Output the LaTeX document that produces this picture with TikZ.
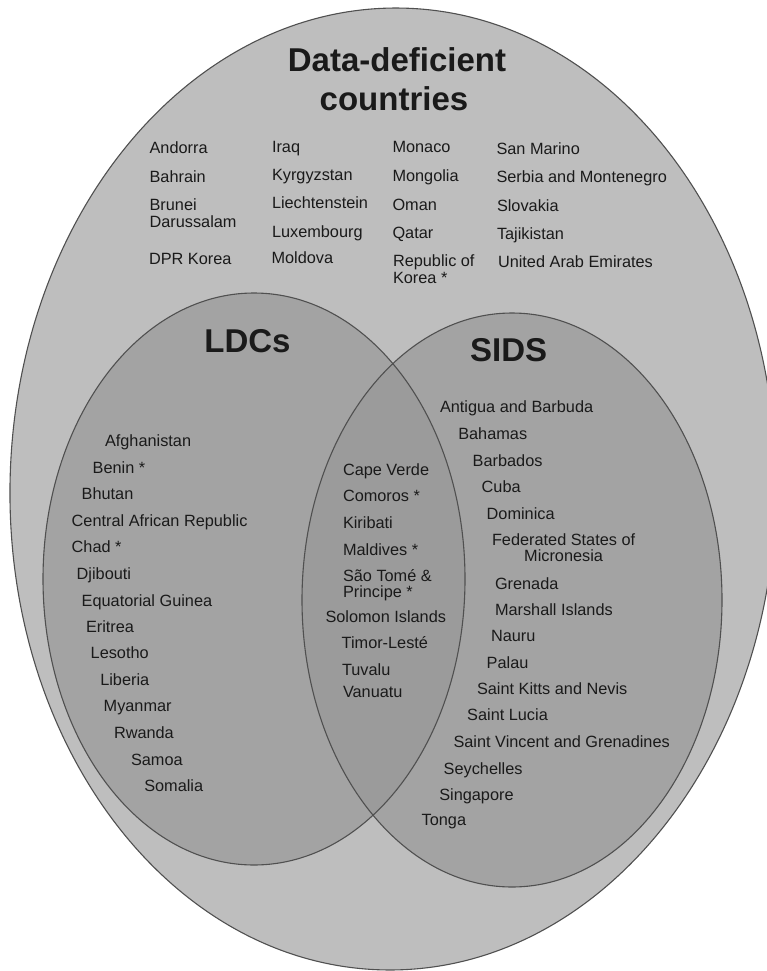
\documentclass[tikz,border=0pt]{standalone}
\usepackage{fontspec}
\setmainfont{Liberation Sans}
\definecolor{bigfill}{HTML}{BEBEBE}
\definecolor{circfill}{HTML}{A3A3A3}
\definecolor{lensfill}{HTML}{9B9B9B}
\definecolor{edgecol}{HTML}{505050}
\definecolor{txtcol}{HTML}{1A1A1A}
\begin{document}
\begin{tikzpicture}[x=1pt,y=-1pt,
  lbl/.style={anchor=base west, inner sep=0pt, outer sep=0pt, text=txtcol, font=\fontsize{16.3}{18}\selectfont},
  lblc/.style={lbl, anchor=base},
  ttl/.style={anchor=base, inner sep=0pt, outer sep=0pt, text=txtcol, font=\fontsize{33}{36}\selectfont\bfseries},
  outline/.style={draw=edgecol, line width=1.1pt}]
\useasboundingbox (0,0) rectangle (767,971);
\begin{scope}
  \clip (0,0) rectangle (767,971);
  % outer ellipse
  \fill[bigfill, rotate around={-1:(393,489)}] (393,489) ellipse [x radius=383pt, y radius=481pt];
  % LDCs and SIDS
  \fill[circfill] (254,579) ellipse [x radius=211pt, y radius=286pt];
  \fill[circfill] (512,600) ellipse [x radius=210pt, y radius=287pt];
  \begin{scope}
    \clip (254,579) ellipse [x radius=211pt, y radius=286pt];
    \fill[lensfill] (512,600) ellipse [x radius=210pt, y radius=287pt];
  \end{scope}
  \draw[outline, rotate around={-1:(393,489)}] (393,489) ellipse [x radius=383pt, y radius=481pt];
  \draw[outline] (254,579) ellipse [x radius=211pt, y radius=286pt];
  \draw[outline] (512,600) ellipse [x radius=210pt, y radius=287pt];
\end{scope}

% titles
\node[ttl] (t1) at (397,72) {Data-deficient};
\node[ttl] (t2) at (394,111) {countries};
\node[ttl] (tldc) at (247.5,352.7) {LDCs};
\node[ttl] (tsids) at (508.7,361.7) {SIDS};

% data-deficient list
\node[lbl] (d1) at (149.6,153.5) {Andorra};
\node[lbl] (d2) at (149.6,182) {Bahrain};
\node[lbl] (d3) at (149.6,210) {Brunei};
\node[lbl] (d3b) at (149.6,227) {Darussalam};
\node[lbl] (d4) at (149,264) {DPR Korea};
\node[lbl] (d5) at (272,152) {Iraq};
\node[lbl] (d6) at (272,180.5) {Kyrgyzstan};
\node[lbl] (d7) at (272,208.5) {Liechtenstein};
\node[lbl] (d8) at (272,237) {Luxembourg};
\node[lbl] (d9) at (271.5,263) {Moldova};
\node[lbl] (d10) at (392.5,153) {Monaco};
\node[lbl] (d11) at (392.5,181.5) {Mongolia};
\node[lbl] (d12) at (392.5,210) {Oman};
\node[lbl] (d13) at (392.5,238.5) {Qatar};
\node[lbl] (d14) at (393,266) {Republic of};
\node[lbl] (d14b) at (393,283) {Korea *};
\node[lbl] (d15) at (496.5,154) {San Marino};
\node[lbl] (d16) at (496.5,182.5) {Serbia and Montenegro};
\node[lbl] (d17) at (497,211) {Slovakia};
\node[lbl] (d18) at (497,239.5) {Tajikistan};
\node[lbl] (d19) at (498,267) {United Arab Emirates};

% LDCs list
\node[lbl] (l1) at (105,446.7) {Afghanistan};
\node[lbl] (l2) at (92.7,473.3) {Benin *};
\node[lbl] (l3) at (81.7,499.5) {Bhutan};
\node[lbl] (l4) at (71.7,526) {Central African Republic};
\node[lbl] (l5) at (71.7,552.7) {Chad *};
\node[lbl] (l6) at (76.7,579.3) {Djibouti};
\node[lbl] (l7) at (81.7,606) {Equatorial Guinea};
\node[lbl] (l8) at (86,632) {Eritrea};
\node[lbl] (l9) at (90.7,658.5) {Lesotho};
\node[lbl] (l10) at (100.3,685) {Liberia};
\node[lbl] (l11) at (103.7,711.7) {Myanmar};
\node[lbl] (l12) at (114,738.3) {Rwanda};
\node[lbl] (l13) at (131,765) {Samoa};
\node[lbl] (l14) at (144.3,791) {Somalia};

% overlap list
\node[lbl] (o1) at (343,475) {Cape Verde};
\node[lbl] (o2) at (343,501.7) {Comoros *};
\node[lbl] (o3) at (343,528) {Kiribati};
\node[lbl] (o4) at (343,555) {Maldives *};
\node[lbl] (o5) at (343,581.5) {São Tomé \&};
\node[lbl] (o5b) at (343,597) {Principe *};
\node[lbl] (o6) at (325.5,622) {Solomon Islands};
\node[lbl] (o7) at (341.7,648) {Timor-Lesté};
\node[lbl] (o8) at (342,675) {Tuvalu};
\node[lbl] (o9) at (343,697.5) {Vanuatu};

% SIDS list
\node[lbl] (s1) at (440,412.7) {Antigua and Barbuda};
\node[lbl] (s2) at (458.3,439) {Bahamas};
\node[lbl] (s3) at (472.7,466) {Barbados};
\node[lbl] (s4) at (481.7,492.3) {Cuba};
\node[lbl] (s5) at (486.7,519.3) {Dominica};
\node[lblc] (s6) at (563.6,545) {Federated States of};
\node[lblc] (s6b) at (563.6,561.7) {Micronesia};
\node[lbl] (s7) at (495,589) {Grenada};
\node[lbl] (s8) at (495,615) {Marshall Islands};
\node[lbl] (s9) at (491,641.7) {Nauru};
\node[lbl] (s10) at (486.7,668.3) {Palau};
\node[lbl] (s11) at (477,694.3) {Saint Kitts and Nevis};
\node[lbl] (s12) at (467.2,720.7) {Saint Lucia};
\node[lbl] (s13) at (453.5,747.3) {Saint Vincent and Grenadines};
\node[lbl] (s14) at (443.7,774) {Seychelles};
\node[lbl] (s15) at (439.3,800) {Singapore};
\node[lbl] (s16) at (421.7,825) {Tonga};
\end{tikzpicture}
\end{document}
